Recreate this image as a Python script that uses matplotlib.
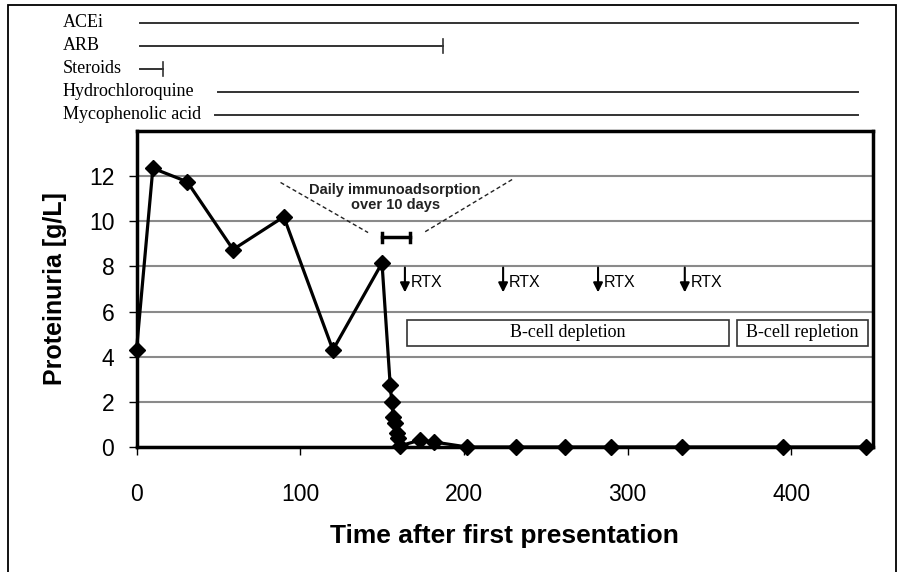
import matplotlib
matplotlib.use("Agg")
import matplotlib.pyplot as plt
import matplotlib.patches as mpatches
from matplotlib.transforms import blended_transform_factory

plt.rcParams["font.family"] = ["Liberation Sans", "DejaVu Sans"]
SERIF = ["Liberation Serif", "DejaVu Serif"]

# proteinuria course (days, g/L)
days = [0, 10, 31, 59, 90, 120, 150, 155, 156, 157, 158, 159, 160, 161,
        173, 182, 202, 232, 262, 290, 333, 395, 446]
protein = [4.3, 12.35, 11.75, 8.75, 10.2, 4.3, 8.15, 2.75, 2.0, 1.33, 1.05,
           0.62, 0.4, 0.05, 0.3, 0.22, 0.0, 0.0, 0.0, 0.0, 0.0, 0.0, 0.0]

# medication bars above the plot
drugs = ["ACEi", "ARB", "Steroids", "Hydrochloroquine", "Mycophenolic acid"]
drug_start = [2, 2, 2, 50, 48]
drug_end = [441, 187, 16, 441, 441]
drug_stopped = [False, True, True, False, False]

# interventions
rtx_days = [164, 224, 282, 335]
ia_start, ia_end = 150, 167
phases = ["B-cell depletion", "B-cell repletion"]
phase_start = [165.5, 367]
phase_end = [362, 447]

W, H = 905, 572
fig = plt.figure(figsize=(W / 100, H / 100), dpi=100)

# frame around whole figure
fig.patches.append(mpatches.Rectangle((8 / W, -0.02), (896 - 8) / W, 1.02 - 5 / H,
                                      transform=fig.transFigure, fill=False,
                                      edgecolor="black", lw=1.3))

left, right, bottom, top = 136.5 / W, 873 / W, 1 - 447 / H, 1 - 131 / H
ax = fig.add_axes([left, bottom, right - left, top - bottom])

ax.set_xlim(0, 450)
ax.set_ylim(0, 14)
ax.set_xticks(range(0, 401, 100))
ax.set_yticks(range(0, 13, 2))
ax.yaxis.grid(True, color="#8a8a8a", lw=1.5)
ax.set_axisbelow(True)
for s in ax.spines.values():
    s.set_linewidth(2.5)
    s.set_color("black")
ax.tick_params(axis="x", length=6, width=1, pad=20, labelsize=16.5, direction="out")
ax.tick_params(axis="y", length=6, width=1, pad=10, labelsize=16.5, direction="out")

ax.plot(days, protein, color="black", lw=2.3, marker="D", markersize=8,
        clip_on=False, zorder=5)

ax.set_xlabel("Time after first presentation", fontsize=19, fontweight="bold",
              labelpad=13)
ax.set_ylabel("Proteinuria [g/L]", fontsize=18, fontweight="bold", labelpad=16)

# immunoadsorption
ax.plot([ia_start, ia_end], [9.3, 9.3], color="black", lw=2.5, zorder=4)
for x in (ia_start, ia_end):
    ax.plot([x, x], [9.1, 9.5], color="black", lw=2.5, zorder=4)
ax.plot([88, 141.5], [11.72, 9.5], color="#222222", lw=1, ls=(0, (3, 2)))
ax.plot([229.5, 175.5], [11.85, 9.5], color="#222222", lw=1, ls=(0, (3, 2)))
ax.text(158, 11.05, "Daily immunoadsorption\nover 10 days", ha="center",
        va="center", fontsize=10.5, fontweight="bold", linespacing=1.15,
        color="#222222")

# rituximab doses
for d in rtx_days:
    ax.annotate("", xy=(d, 6.85), xytext=(d, 7.95),
                arrowprops=dict(arrowstyle="-|>", color="black", lw=1.5,
                                mutation_scale=14, shrinkA=0, shrinkB=0))
    ax.text(d + 3.5, 7.3, "RTX", ha="left", va="center", fontsize=11.5)

# B-cell phases
for name, x0, x1 in zip(phases, phase_start, phase_end):
    ax.add_patch(mpatches.Rectangle((x0, 4.48), x1 - x0, 1.16, facecolor="white",
                                    edgecolor="#333333", lw=1.2, zorder=3))
    ax.text((x0 + x1) / 2, 5.06, name, ha="center", va="center", fontsize=13,
            family=SERIF, zorder=4)

# medication timeline
axt = fig.add_axes([left, 1 - 130 / H, right - left, 130 / H])
axt.set_xlim(ax.get_xlim())
axt.set_ylim(130, 0)
axt.axis("off")
lab_tr = blended_transform_factory(fig.transFigure, axt.transData)
for i, (name, x0, x1, stop) in enumerate(zip(drugs, drug_start, drug_end, drug_stopped)):
    y = 22.5 + 23 * i
    axt.plot([x0, x1], [y, y], color="#333333", lw=1.4)
    if stop:
        axt.plot([x1, x1], [y - 7, y + 7], color="#333333", lw=1.2)
    axt.text(63 / W, y, name, transform=lab_tr, ha="left", va="center",
             fontsize=13, family=SERIF)

fig.savefig("out.png", dpi=100)
